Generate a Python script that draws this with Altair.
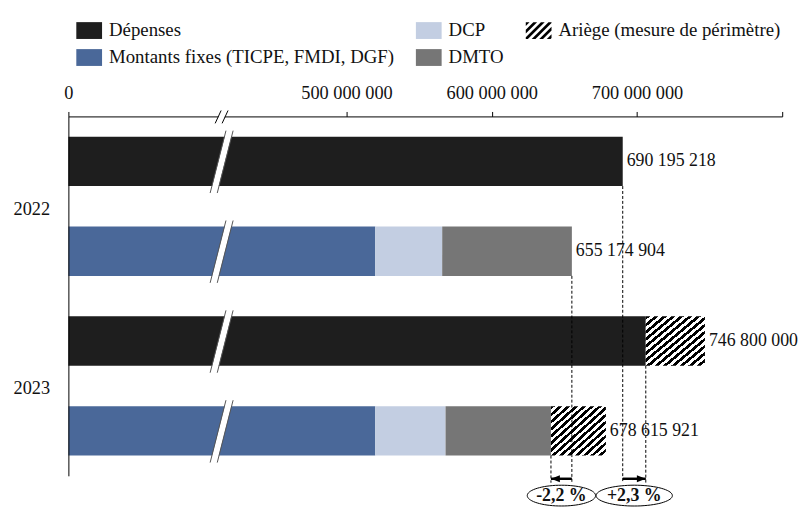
import math
import altair as alt
import pandas as pd

# ---------------- data ----------------
YEARS = ["2022", "2023"]
DEP = "Dépenses"
MF = "Montants fixes (TICPE, FMDI, DGF)"
DCP = "DCP"
DMTO = "DMTO"
ARIEGE = "Ariège (mesure de périmètre)"
LEGEND_ORDER = [DEP, DCP, ARIEGE, MF, DMTO]

depenses_hors_ariege = [690_195_218, 706_070_000]
depenses_ariege = [0, 40_730_000]
montants_fixes = [519_800_000, 519_800_000]
dcp = [46_100_000, 48_400_000]
dmto = [89_274_904, 72_580_000]
ressources_ariege = [0, 37_835_921]

AXIS_TICKS = [308_500_000, 500_000_000, 600_000_000, 700_000_000, 800_000_000]
AXIS_TICK_LABELS = ["0", "500 000 000", "600 000 000", "700 000 000", ""]
AXIS_BREAK = 414_000_000

# ---------------- styles ----------------
SERIF = "Liberation Serif"
TXT = "#111111"
COLORS = {DEP: "#1e1e1e", DCP: "#c3cee2", ARIEGE: "#000000", MF: "#4a6899", DMTO: "#767676"}
W, H = 721, 363

# ---------------- tables ----------------
ROWS, recs = [], []
for i, yr in enumerate(YEARS):
    rd, rr = f"{yr}|{DEP}", f"{yr}|Ressources"
    ROWS += [rd, rr]
    for k, (kind, v) in enumerate([(DEP, depenses_hors_ariege[i]), (ARIEGE, depenses_ariege[i])]):
        if v:
            recs.append({"row": rd, "kind": kind, "value": v, "order": k})
    for k, (kind, v) in enumerate([(MF, montants_fixes[i]), (DCP, dcp[i]),
                                   (DMTO, dmto[i]), (ARIEGE, ressources_ariege[i])]):
        if v:
            recs.append({"row": rr, "kind": kind, "value": v, "order": k})
seg = pd.DataFrame(recs)

tot = seg.groupby("row", sort=False)["value"].sum().reset_index(name="total")
tot["label"] = tot["total"].map(lambda v: f"{int(v):,}".replace(",", " "))

res_hors = [montants_fixes[i] + dcp[i] + dmto[i] for i in range(2)]
guides = pd.DataFrame([
    {"row": f"{YEARS[0]}|Ressources", "x": res_hors[0] + ressources_ariege[0]},
    {"row": f"{YEARS[1]}|Ressources", "x": res_hors[1]},
    {"row": f"{YEARS[0]}|{DEP}", "x": depenses_hors_ariege[0] + depenses_ariege[0]},
    {"row": f"{YEARS[1]}|{DEP}", "x": depenses_hors_ariege[1]},
])


def pct(a, b):
    return f"{(b / a - 1) * 100:+.1f} %".replace(".", ",")


arrows = pd.DataFrame([
    {"start": guides.x[0], "end": guides.x[1], "dir": "left", "label": pct(guides.x[0], guides.x[1]), "w": 69},
    {"start": guides.x[2], "end": guides.x[3], "dir": "right", "label": pct(guides.x[2], guides.x[3]), "w": 77},
])
arrows["mid"] = (arrows["start"] + arrows["end"]) / 2
breaks = pd.DataFrame({"row": ROWS, "x": [AXIS_BREAK] * len(ROWS)})
axis_break = pd.DataFrame({"x": [AXIS_BREAK]})


# ---------------- shapes ----------------
def clip(poly, f):
    out = []
    for i in range(len(poly)):
        p, q = poly[i], poly[(i + 1) % len(poly)]
        fp, fq = f(p), f(q)
        if fp >= 0:
            out.append(p)
        if (fp >= 0) != (fq >= 0):
            t = fp / (fp - fq)
            out.append((p[0] + t * (q[0] - p[0]), p[1] + t * (q[1] - p[1])))
    return out


def poly_path(pts):
    return "M" + " L".join(f"{x:.3f},{y:.3f}" for x, y in pts) + " Z"


RW = 1.53
RECT = poly_path([(-RW, -1), (RW, -1), (RW, 1), (-RW, 1)])
stripes = []
c, P = -(RW + 1), 0.9
while c < RW + 1:
    a, b = c, c + P / 2
    pts = clip(clip([(-RW, -1), (RW, -1), (RW, 1), (-RW, 1)], lambda p, a=a: p[0] + p[1] - a),
               lambda p, b=b: b - (p[0] + p[1]))
    if len(pts) >= 3:
        stripes.append(poly_path(pts))
    c += P
STRIPES = " ".join(stripes)


def ellipse(k):
    return poly_path([(math.cos(2 * math.pi * i / 72), k * math.sin(2 * math.pi * i / 72)) for i in range(72)])


N = 14
stops = []
for k in range(N):
    stops += [alt.GradientStop(offset=k / N, color="#000"),
              alt.GradientStop(offset=(k + 0.5) / N, color="#000"),
              alt.GradientStop(offset=(k + 0.5) / N, color="#fff"),
              alt.GradientStop(offset=(k + 1) / N, color="#fff")]
HATCH = alt.LinearGradient(gradient="linear", x1=0, y1=0, x2=1, y2=1, stops=stops)

# ---------------- encodings ----------------
label_expr = " : ".join(f"datum.value == {v} ? '{t}'" for v, t in zip(AXIS_TICKS, AXIS_TICK_LABELS)) + " : ''"
X_SCALE = alt.Scale(domain=[AXIS_TICKS[0], AXIS_TICKS[-1]], clamp=True, zero=False, nice=False)
X_AXIS = alt.Axis(orient="top", values=AXIS_TICKS, labelExpr=label_expr, labelFlush=False,
                  labelOverlap=False, grid=False, tickSize=5, tickColor="#000", domainColor="#000",
                  labelFont=SERIF, labelFontSize=18.5, labelColor=TXT, labelPadding=13,
                  labelBaseline="alphabetic", zindex=0)
Y_SCALE = alt.Scale(domain=ROWS, paddingInner=0.45, paddingOuter=0.225)
Y_AXIS = alt.Axis(orient="left", ticks=False, domainColor="#000", grid=False,
                  labelExpr=f"slice(datum.value, 5) == '{DEP}' ? slice(datum.value, 0, 4) : ''",
                  labelOffset=48, labelPadding=19, labelFont=SERIF, labelFontSize=18.5,
                  labelColor=TXT, labelAngle=0, zindex=1)


def X(field, **kw):
    return alt.X(field, scale=X_SCALE, axis=X_AXIS, title=None, **kw)


def Y(**kw):
    return alt.Y("row:N", scale=Y_SCALE, axis=Y_AXIS, title=None, **kw)


SOLID = [k for k in LEGEND_ORDER if k != ARIEGE]
FILL_SCALE = alt.Scale(domain=SOLID, range=[COLORS[k] for k in SOLID])
COLOR_SCALE = alt.Scale(domain=LEGEND_ORDER, range=[COLORS[k] for k in LEGEND_ORDER])
SHAPE_SCALE = alt.Scale(domain=LEGEND_ORDER, range=[STRIPES if k == ARIEGE else RECT for k in LEGEND_ORDER])
LEGEND = alt.Legend(orient="none", legendX=11.5, legendY=-96.5, direction="horizontal", columns=3,
                    title=None, symbolSize=289, symbolStrokeWidth=0, symbolOpacity=1,
                    labelFont=SERIF, labelFontSize=19, labelColor=TXT, labelLimit=0,
                    labelOffset=10.5, columnPadding=21, rowPadding=7.5, padding=0)

stacked = alt.Chart(seg).transform_stack(stack="value", groupby=["row"], as_=["x0", "x1"],
                                         sort=[alt.SortField("order", order="ascending")])

bars = stacked.transform_filter(alt.datum.kind != ARIEGE).mark_bar(strokeWidth=0).encode(
    x=X("x0:Q"), x2="x1:Q", y=Y(),
    fill=alt.Fill("kind:N", scale=FILL_SCALE, legend=None))
hatched = stacked.transform_filter(alt.datum.kind == ARIEGE).mark_bar(fill=HATCH, strokeWidth=0).encode(
    x=X("x0:Q"), x2="x1:Q", y=Y())

dashes = alt.Chart(guides).mark_rule(color="#000", strokeWidth=1, strokeDash=[3, 2]).encode(
    x=X("x:Q"), y=Y(bandPosition=1), y2=alt.value(H + 7))

slash_layers = []
for dx, col, sw in [(0, "#ffffff", 6.5), (-3.6, "#555555", 1), (3.6, "#555555", 1)]:
    slash_layers.append(alt.Chart(breaks).mark_rule(
        color=col, strokeWidth=sw, xOffset=-8 + dx, x2Offset=8 + dx, yOffset=32, y2Offset=-31).encode(
        x=X("x:Q"), x2="x:Q", y=Y(), y2="row:N"))
for dx, col, sw in [(0, "#ffffff", 5.5), (-3.5, "#000000", 1), (3.5, "#000000", 1)]:
    slash_layers.append(alt.Chart(axis_break).mark_rule(
        color=col, strokeWidth=sw, xOffset=-3 + dx, x2Offset=3 + dx, yOffset=7, y2Offset=-6).encode(
        x=X("x:Q"), x2="x:Q", y=alt.value(0), y2=alt.value(0)))

values = alt.Chart(tot).mark_text(align="left", baseline="middle", dx=4, font=SERIF,
                                  fontSize=18, color=TXT).encode(x=X("total:Q"), y=Y(), text="label:N")

shafts = alt.Chart(arrows).mark_rule(color="#000", strokeWidth=2.5).encode(
    x=X("start:Q"), x2="end:Q", y=alt.value(H + 3))
heads = []
for d, path in [("left", "M0,0 L2,-0.8 L2,0.8 Z"), ("right", "M0,0 L-2,-0.8 L-2,0.8 Z")]:
    heads.append(alt.Chart(arrows).transform_filter(alt.datum.dir == d).mark_point(
        shape=path, filled=True, size=81, color="#000", opacity=1).encode(
        x=X("end:Q"), y=alt.value(H + 3)))
ellipses = []
for i, row in arrows.iterrows():
    ellipses.append(alt.Chart(arrows).transform_filter(alt.datum.dir == row["dir"]).mark_point(
        shape=ellipse(21 / row["w"]), filled=False, size=row["w"] ** 2, stroke="#000",
        strokeWidth=1, opacity=1).encode(x=X("mid:Q"), y=alt.value(H + 20)))
pcts = alt.Chart(arrows).mark_text(font=SERIF, fontSize=18, fontWeight="bold", color=TXT,
                                   align="center", baseline="middle").encode(
    x=X("mid:Q"), y=alt.value(H + 20), text="label:N")

legend_layer = alt.Chart(seg).transform_filter("false").mark_point(filled=True, opacity=1).encode(
    color=alt.Color("kind:N", scale=COLOR_SCALE, legend=LEGEND),
    shape=alt.Shape("kind:N", scale=SHAPE_SCALE, legend=LEGEND))

chart = alt.layer(
    bars, hatched, dashes, *slash_layers, values, shafts, *heads, *ellipses, pcts, legend_layer
).properties(
    width=W, height=H,
    padding={"left": 61, "top": 107, "right": 20, "bottom": 30},
    autosize=alt.AutoSizeParams(type="none"),
).configure(
    font=SERIF,
    style={"guide-label": {"font": SERIF, "fontSize": 19, "fill": TXT}},
).configure_view(stroke=None).configure_legend(
    labelFont=SERIF, labelFontSize=19, labelColor=TXT, labelLimit=0
)

chart.save("out.html", embed_options={"renderer": "svg", "actions": False})
